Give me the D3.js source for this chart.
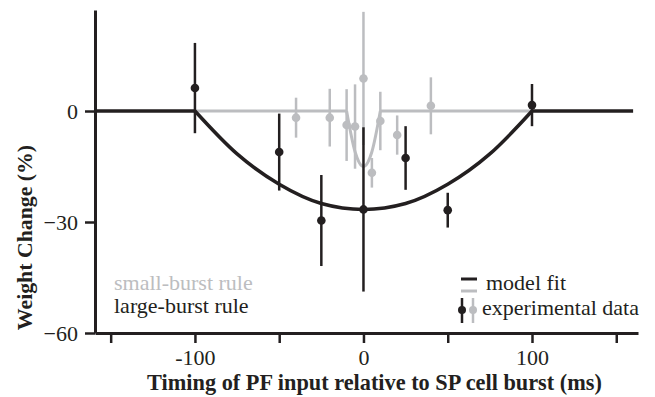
<!DOCTYPE html>
<html>
<head>
<meta charset="utf-8">
<script src="https://cdn.jsdelivr.net/npm/d3@7"></script>
<style>
  body { margin: 0; background: #fff; }
  svg { display: block; font-family: "Liberation Serif", "DejaVu Serif", serif; }
</style>
</head>
<body>
<div id="chart"></div>
<script>
// large-burst rule: timing (ms), weight change (%), error (%)
const largeT = [-100, -50, -25, 0, 25, 50, 100];
const largeW = [6.2, -11.1, -29.6, -26.6, -12.7, -26.8, 1.6];
const largeE = [12.2, 10.4, 12.3, 22.2, 8.6, 4.7, 5.7];

// small-burst rule
const smallT = [-40, -20, -10, -5, 0, 5, 10, 20, 40];
const smallW = [-1.8, -1.8, -3.8, -4.2, 8.8, -16.7, -2.7, -6.5, 1.4];
const smallE = [5.4, 7.8, 9.7, 11.4, 18, 4, 7.9, 5.3, 7.7];

// model fits
const largeFitT = [-100, -75, -50, -25, 0, 25, 50, 75, 100];
const largeFitW = [0, -11.6, -19.8, -25, -26.6, -25, -19.8, -11.6, 0];
const largeFlatT = [[-158.5, -100], [100, 160]];
const smallFitT = [-10, -5, 0, 5, 10];
const smallFitW = [0, -11, -15, -11, 0];
const smallFlatT = [[-100, -10], [10, 100]];

const xTicks = [-150, -100, -50, 0, 50, 100, 150];
const xLabelled = [-100, 0, 100];
const yTicks = [-60, -30, 0];

const black = "#231f20", gray = "#bcbdc0";
const W = 655, H = 397;

const svg = d3.select("#chart").append("svg")
  .attr("width", W).attr("height", H);

const x = d3.scaleLinear().domain([-159.3, 162.9]).range([95, 638]);
const y = d3.scaleLinear().domain([-60, 27.3]).range([333, 10]);

// axes
const xAxis = svg.append("g")
  .attr("transform", `translate(0, ${y(-60)})`)
  .call(d3.axisBottom(x).tickValues(xTicks).tickSize(10).tickSizeOuter(0).tickPadding(6)
    .tickFormat(d => xLabelled.includes(d) ? d : ""));
const yAxis = svg.append("g")
  .attr("transform", `translate(${x(-159.3)}, 0)`)
  .call(d3.axisLeft(y).tickValues(yTicks).tickSize(10).tickSizeOuter(0).tickPadding(7));

[xAxis, yAxis].forEach(a => {
  a.select(".domain").attr("stroke", black).attr("stroke-width", 3);
  a.selectAll(".tick line").attr("stroke", black).attr("stroke-width", 2.5);
  a.selectAll(".tick text")
    .attr("fill", black)
    .style("font-family", "Liberation Serif")
    .style("font-size", "22px");
});

// axis titles
svg.append("text")
  .attr("x", 374.5).attr("y", 390)
  .attr("text-anchor", "middle")
  .style("font-weight", "bold").style("font-size", "22.3px")
  .attr("fill", black)
  .text("Timing of PF input relative to SP cell burst (ms)");

svg.append("text")
  .attr("transform", "translate(32, 237.5) rotate(-90)")
  .attr("text-anchor", "middle")
  .style("font-weight", "bold").style("font-size", "21.8px")
  .attr("fill", black)
  .text("Weight Change (%)");

const fit = d3.line().x(d => x(d[0])).y(d => y(d[1])).curve(d3.curveMonotoneX);
const flat = d3.line().x(d => x(d)).y(y(0));

// small-burst fit (gray)
smallFlatT.forEach(seg => {
  svg.append("path").attr("d", flat(seg))
    .attr("fill", "none").attr("stroke", gray).attr("stroke-width", 3);
});
svg.append("path")
  .attr("d", fit(smallFitT.map((t, i) => [t, smallFitW[i]])))
  .attr("fill", "none").attr("stroke", gray).attr("stroke-width", 3);

// small-burst data
const smallG = svg.append("g");
smallT.forEach((t, i) => {
  smallG.append("line")
    .attr("x1", x(t)).attr("x2", x(t))
    .attr("y1", y(smallW[i] + smallE[i])).attr("y2", y(smallW[i] - smallE[i]))
    .attr("stroke", gray).attr("stroke-width", 2.5);
  smallG.append("circle")
    .attr("cx", x(t)).attr("cy", y(smallW[i])).attr("r", 4.3)
    .attr("fill", gray);
});

// large-burst fit (black)
largeFlatT.forEach(seg => {
  svg.append("path").attr("d", flat(seg))
    .attr("fill", "none").attr("stroke", black).attr("stroke-width", 3.5);
});
svg.append("path")
  .attr("d", fit(largeFitT.map((t, i) => [t, largeFitW[i]])))
  .attr("fill", "none").attr("stroke", black).attr("stroke-width", 3.5);

// large-burst data
const largeG = svg.append("g");
largeT.forEach((t, i) => {
  largeG.append("line")
    .attr("x1", x(t)).attr("x2", x(t))
    .attr("y1", y(largeW[i] + largeE[i])).attr("y2", y(largeW[i] - largeE[i]))
    .attr("stroke", black).attr("stroke-width", 2.5);
  largeG.append("circle")
    .attr("cx", x(t)).attr("cy", y(largeW[i])).attr("r", 4.3)
    .attr("fill", black);
});

// left legend
svg.append("text").attr("x", 114).attr("y", 290)
  .style("font-size", "22px").attr("fill", gray).text("small-burst rule");
svg.append("text").attr("x", 114).attr("y", 313)
  .style("font-size", "22px").attr("fill", black).text("large-burst rule");

// right legend
const lg = svg.append("g");
lg.append("line").attr("x1", 461).attr("x2", 477).attr("y1", 279).attr("y2", 279)
  .attr("stroke", black).attr("stroke-width", 3);
lg.append("line").attr("x1", 461).attr("x2", 477).attr("y1", 291).attr("y2", 291)
  .attr("stroke", gray).attr("stroke-width", 3);
lg.append("text").attr("x", 486).attr("y", 290)
  .style("font-size", "22px").attr("fill", black).text("model fit");
[[462, black], [473, gray]].forEach(([cx, c]) => {
  lg.append("line").attr("x1", cx).attr("x2", cx).attr("y1", 298).attr("y2", 323)
    .attr("stroke", c).attr("stroke-width", 2.5);
  lg.append("circle").attr("cx", cx).attr("cy", 310).attr("r", 4).attr("fill", c);
});
lg.append("text").attr("x", 482).attr("y", 315)
  .style("font-size", "22px").attr("fill", black).text("experimental data");
</script>
</body>
</html>
